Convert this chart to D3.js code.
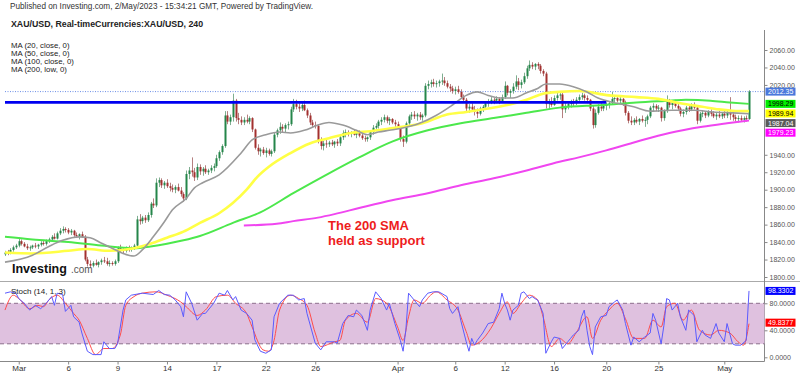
<!DOCTYPE html>
<html lang="en">
<head>
<meta charset="UTF-8">
<title>XAU/USD 240</title>
<script src="https://cdnjs.cloudflare.com/ajax/libs/d3/7.8.5/d3.min.js"></script>
<style>
    html, body { margin: 0; padding: 0; background: #fff; }
    svg text { font-family: Arial, "Liberation Sans", sans-serif; }
</style>
</head>
<body>
<svg id="chart" width="800" height="376"></svg>
<script>
// 4h candles, [high, low, close]; open = previous close
const firstOpen = 1826;
const candles = [
    [1830,1824,1828],[1831,1825,1827],[1833,1826,1831],[1836,1829,1834],[1838,1832,1836],
    [1845,1834,1841],[1843,1836,1838],[1840,1834,1835],[1838,1831,1833],[1836,1830,1834],[1837,1832,1836],
    [1839,1833,1835],[1838,1832,1837],[1841,1835,1839],[1842,1836,1838],[1843,1836,1841],[1845,1839,1843],
    [1848,1841,1846],[1850,1843,1844],[1852,1843,1850],[1856,1848,1853],[1858,1850,1855],[1857,1851,1854],
    [1856,1849,1851],[1855,1848,1853],[1854,1846,1848],[1851,1845,1847],[1850,1843,1849],[1852,1845,1846],
    [1848,1818,1820],[1823,1812,1815],[1819,1810,1813],[1818,1811,1816],[1820,1813,1814],[1818,1811,1817],
    [1821,1814,1819],[1823,1816,1818],[1822,1813,1815],[1819,1812,1816],[1818,1813,1815],[1820,1813,1818],
    [1835,1816,1833],[1837,1828,1831],[1834,1827,1830],[1835,1828,1833],[1836,1829,1832],[1835,1829,1834],
    [1838,1831,1836],[1870,1835,1866],[1872,1860,1864],[1870,1861,1868],[1871,1862,1865],[1874,1863,1871],
    [1886,1868,1884],[1890,1879,1882],[1913,1880,1908],[1914,1903,1911],[1913,1902,1905],[1910,1901,1908],
    [1912,1902,1904],[1908,1898,1902],[1906,1897,1900],[1905,1896,1903],[1907,1898,1899],[1903,1892,1895],
    [1897,1886,1890],[1922,1888,1918],[1926,1912,1922],[1937,1915,1920],[1925,1910,1914],[1930,1911,1926],
    [1929,1917,1921],[1926,1916,1924],[1928,1918,1920],[1924,1917,1922],[1928,1919,1925],[1930,1921,1927],
    [1940,1925,1936],[1945,1933,1943],[1952,1940,1950],[1990,1948,1985],[1990,1975,1978],[1986,1974,1983],
    [2010,1978,2002],[2004,1978,1982],[1988,1975,1980],[1984,1974,1977],[1983,1974,1980],[1986,1976,1978],
    [1984,1975,1982],[1983,1966,1969],[1970,1946,1948],[1952,1940,1944],[1948,1938,1946],[1949,1940,1942],
    [1948,1937,1945],[1947,1939,1941],[1946,1938,1944],[1966,1942,1963],[1970,1960,1968],[1977,1964,1972],
    [1975,1965,1970],[1976,1966,1974],[1978,1969,1975],[1995,1973,1992],[2004,1989,1998],[2003,1992,1995],
    [1999,1989,1993],[2001,1990,1997],[2002,1990,1991],[1993,1982,1985],[1988,1974,1977],[1980,1971,1974],
    [1978,1970,1973],[1975,1953,1956],[1960,1946,1950],[1956,1945,1953],[1957,1948,1952],[1956,1949,1954],
    [1957,1950,1952],[1956,1948,1955],[1958,1950,1953],[1962,1950,1960],[1968,1957,1965],[1969,1960,1966],
    [1968,1961,1964],[1967,1960,1966],[1969,1962,1963],[1966,1959,1965],[1968,1960,1962],[1964,1957,1959],
    [1962,1955,1958],[1961,1955,1960],[1968,1957,1966],[1974,1963,1971],[1976,1967,1973],[1980,1970,1978],
    [1983,1974,1980],[1986,1977,1983],[1985,1976,1979],[1983,1974,1981],[1982,1975,1977],[1980,1972,1975],
    [1978,1970,1972],[1973,1955,1958],[1962,1949,1955],[1978,1953,1976],[1986,1974,1984],[1989,1980,1986],
    [1990,1981,1984],[1988,1979,1986],[1989,1980,1983],[1987,1979,1985],[2022,1983,2019],[2025,2015,2021],
    [2026,2017,2023],[2027,2018,2021],[2025,2017,2022],[2026,2018,2024],[2033,2020,2025],[2029,2019,2022],
    [2025,2016,2018],[2021,2012,2016],[2019,2010,2013],[2018,2009,2015],[2019,2010,2012],[2015,2004,2006],
    [2009,2000,2003],[2005,1990,1993],[1998,1988,1995],[1999,1990,1992],[1996,1985,1989],[1993,1982,1987],
    [1995,1985,1993],[1997,1989,1995],[2001,1992,1999],[2004,1995,2001],[2006,1998,2003],[2005,1998,2002],
    [2007,1999,2004],[2006,1998,2001],[2009,2000,2006],[2024,2004,2019],[2020,2008,2011],[2015,2005,2013],
    [2022,2010,2018],[2031,2015,2024],[2028,2014,2020],[2026,2016,2023],[2034,2021,2030],[2042,2027,2039],
    [2048,2036,2043],[2046,2038,2041],[2045,2037,2044],[2046,2038,2042],[2044,2033,2036],[2038,2030,2033],
    [2035,1993,1998],[2004,1992,2000],[2006,1995,1997],[2008,1996,2005],[2011,2002,2008],[2012,2003,2009],
    [2011,1982,1992],[2000,1988,1996],[2001,1992,1998],[2003,1994,2000],[2004,1996,1999],[2006,1997,2003],
    [2009,2000,2006],[2011,2003,2008],[2010,2002,2005],[2008,1999,2003],[2004,1990,1993],[1996,1970,1974],
    [1992,1971,1988],[1998,1986,1995],[1999,1990,1993],[1998,1990,1996],[2000,1991,1998],[2001,1993,1999],
    [2012,1997,2004],[2007,2000,2005],[2008,2000,2002],[2006,1999,2004],[2005,1996,2000],[2002,1985,1988],
    [1990,1976,1979],[1984,1974,1977],[1982,1974,1980],[1984,1976,1978],[1982,1974,1981],[1985,1977,1979],
    [1983,1972,1980],[1986,1975,1984],[1996,1982,1994],[1999,1989,1996],[1998,1990,1993],[1997,1989,1994],
    [1995,1978,1982],[1992,1979,1990],[2008,1988,2001],[2004,1994,1997],[2002,1992,2000],[2003,1994,1996],
    [1999,1990,1993],[1995,1984,1987],[1992,1983,1989],[1996,1986,1994],[1998,1989,1992],[1999,1990,1997],
    [2000,1992,1994],[1996,1975,1979],[1989,1977,1987],[1991,1983,1988],[1990,1982,1985],[1991,1983,1989],
    [1992,1984,1987],[1990,1982,1984],[1989,1980,1986],[1990,1982,1984],[1989,1981,1987],[1990,1982,1985],
    [1991,1982,1988],[2006,1980,1986],[1989,1979,1983],[1986,1978,1981],[1985,1977,1982],[1985,1978,1980],
    [1984,1977,1982],[1985,1978,1981],[2014,1980,2012.35]
];

// moving averages, [bar, value]
const ma20 = [[0,1817],[10,1825],[16,1835],[21,1842],[27,1846],[31,1845],[35,1839],[39,1833],[43,1827],[47,1824],
    [50,1831],[54,1846],[58,1863],[61,1877],[66,1890],[69,1902],[72,1908],[78,1917],[86,1942],[90,1957],[95,1963],
    [100,1966],[104,1965],[109,1968],[114,1974],[118,1977],[123,1974],[128,1968],[132,1963],[136,1966],[140,1968],
    [144,1970],[151,1976],[157,1985],[163,1997],[168,2008],[172,2012],[176,2008],[180,2005],[185,2005],[190,2011],
    [194,2016],[197,2021],[202,2021],[207,2018],[212,2012],[216,2005],[223,1999],[229,1995],[235,1990],[243,1991],
    [251,1991],[258,1989],[265,1988],[271,1987.04]];
const ma50 = [[0,1828],[10,1827],[23,1830],[30,1832],[38,1830],[47,1833],[53,1838],[59,1845],[65,1852],[71,1862],
    [78,1873],[88,1900],[92,1915],[96,1926],[104,1942],[111,1953],[118,1959],[126,1965],[133,1967],[140,1970],
    [152,1976],[161,1986],[168,1989],[176,1993],[183,1997],[190,2003],[196,2010],[202,2012],[209,2013],[220,2008],
    [230,2006],[238,2004],[246,1999],[254,1995],[260,1992],[265,1990.5],[271,1989.94]];
const ma100 = [[0,1846],[10,1843],[23,1840],[35,1836],[47,1833],[53,1835],[59,1838],[65,1842],[71,1847],[83,1862],
    [93,1874],[105,1896],[117,1917],[129,1937],[141,1955],[154,1968],[166,1976],[178,1982],[190,1988],[202,1994],
    [218,1997],[230,2000],[242,2002],[248,2003],[257,2002],[264,2000],[271,1998.29]];
const ma200 = [[87,1859],[99,1861],[105,1864],[114,1868],[120,1872],[129,1879],[141,1888],[154,1896],[166,1905],
    [178,1913],[190,1922],[202,1932],[209,1937],[219,1945],[230,1955],[242,1965],[254,1972],[263,1976],[271,1979.23]];

// stochastic (14, 1, 3), [bar, value]
const stochK = [[0,95],[2,97],[4,95],[5,87],[7,80],[9,70],[11,77],[13,72],[15,80],[17,90],[18,77],[19,95],[21,93],
    [22,68],[24,77],[25,60],[27,52],[28,36],[30,9],[32,4],[35,4],[36,23],[38,13],[40,13],[41,20],[43,70],[44,85],
    [46,92],[50,95],[54,93],[56,99],[58,93],[60,92],[62,85],[64,75],[65,60],[66,97],[68,80],[70,55],[72,65],[73,65],
    [74,70],[76,80],[78,95],[80,92],[81,99],[83,85],[84,90],[86,70],[88,65],[90,55],[91,26],[93,9],[95,6],[97,11],
    [98,60],[100,80],[103,92],[105,92],[107,85],[109,87],[110,65],[113,21],[115,11],[117,23],[120,23],[121,21],
    [123,50],[125,62],[127,60],[128,70],[130,62],[132,40],[133,70],[135,97],[137,87],[139,70],[140,80],[142,50],
    [144,25],[145,9],[146,40],[147,95],[149,85],[151,75],[152,85],[154,95],[156,97],[158,97],[161,90],[162,72],
    [163,65],[165,75],[166,55],[168,23],[169,9],[170,28],[171,18],[172,25],[174,36],[176,50],[178,52],[180,72],
    [181,95],[182,80],[183,70],[184,55],[185,70],[187,77],[188,95],[189,97],[191,87],[192,90],[193,87],[194,85],
    [196,65],[197,6],[199,23],[200,30],[202,28],[203,13],[205,23],[206,28],[207,33],[209,40],[210,60],[211,70],
    [212,40],[213,16],[214,4],[215,45],[217,60],[219,62],[220,75],[222,82],[223,85],[225,70],[226,50],[228,18],
    [229,30],[231,23],[233,30],[235,36],[236,65],[237,55],[239,20],[240,47],[241,87],[242,85],[243,70],[245,80],
    [246,60],[248,40],[249,70],[251,62],[252,23],[254,40],[255,33],[257,28],[259,50],[260,36],[262,23],[263,50],
    [265,20],[266,18],[268,18],[270,25],[271,98.3302]];
const stochD = [[0,70],[3,92],[5,87],[9,72],[12,77],[14,75],[16,85],[19,92],[22,80],[25,65],[27,55],[30,28],[33,4],
    [36,13],[39,13],[42,33],[44,77],[47,90],[50,95],[55,97],[59,92],[64,82],[66,75],[70,62],[73,70],[77,90],[81,92],
    [84,80],[88,65],[90,45],[94,11],[96,9],[98,25],[100,70],[104,92],[107,87],[110,77],[113,36],[115,16],[120,23],
    [122,25],[124,55],[128,65],[132,52],[135,87],[139,80],[143,45],[145,25],[147,60],[149,85],[152,80],[155,92],
    [157,97],[161,85],[165,70],[168,38],[170,18],[173,23],[177,43],[180,65],[183,82],[185,65],[188,80],[191,92],
    [194,85],[196,60],[199,16],[202,28],[205,20],[208,36],[212,60],[214,28],[217,55],[220,70],[223,80],[226,57],
    [229,28],[233,28],[236,55],[239,45],[241,75],[244,80],[247,55],[250,70],[253,40],[257,33],[260,40],[264,36],
    [267,23],[269,18],[271,49.8377]];

const xTickBars = [5, 23, 41, 59, 77, 95, 113, 143, 164, 182, 200, 219, 238, 262];
const xTickLabels = ["Mar", "6", "9", "14", "17", "22", "26", "Apr", "6", "12", "16", "20", "25", "May"];
const priceTicks = [1800, 1820, 1840, 1860, 1880, 1900, 1920, 1940, 1960, 1980, 2000, 2020, 2040, 2060];
const stochTicks = [0, 40, 80];
const levelLine = [2000, 0, 219];   // price, from bar, to bar
const maNames = ["MA (20, close, 0)", "MA (50, close, 0)", "MA (100, close, 0)", "MA (200, low, 0)"];

const svg = d3.select("#chart");
const axisX = 764.5;

const x = d3.scaleLinear().domain([0, candles.length - 1]).range([5, 749]);
const y = d3.scaleLinear().domain([1800, 2060]).range([277, 50]);
const ys = d3.scaleLinear().domain([0, 100]).range([357.3, 289.8]);

// header
svg.append("text").attr("x", 10).attr("y", 9).attr("font-size", 8.2).attr("fill", "#333")
    .text("Published on Investing.com, 2/May/2023 - 15:34:21 GMT, Powered by TradingView.");
svg.append("text").attr("x", 11).attr("y", 27).attr("font-size", 8.8).attr("font-weight", "bold").attr("fill", "#222")
    .text("XAU/USD, Real-timeCurrencies:XAU/USD, 240");
maNames.forEach((t, i) => {
    svg.append("text").attr("x", 11).attr("y", 48 + i * 8.1).attr("font-size", 7.8).attr("fill", "#222").text(t);
});

// frame
svg.append("line").attr("x1", 0).attr("x2", 800).attr("y1", 281.5).attr("y2", 281.5).attr("stroke", "#aaa");
svg.append("line").attr("x1", 0).attr("x2", axisX).attr("y1", 361.5).attr("y2", 361.5).attr("stroke", "#888");
svg.append("line").attr("x1", axisX).attr("x2", axisX).attr("y1", 30).attr("y2", 361.5).attr("stroke", "#888");

// last price dotted line
const lastClose = candles[candles.length - 1][2];
svg.append("line").attr("x1", 5).attr("x2", axisX).attr("y1", y(lastClose)).attr("y2", y(lastClose))
    .attr("stroke", "#6d8fe6").attr("stroke-dasharray", "1,1.5");

// candles
const bars = candles.map((d, i) => ({
    i: i, o: i ? candles[i - 1][2] : firstOpen, h: d[0], l: d[1], c: d[2]
}));
const cg = svg.append("g");
cg.selectAll("line.wick").data(bars).enter().append("line")
    .attr("x1", d => Math.round(x(d.i)) + 0.5).attr("x2", d => Math.round(x(d.i)) + 0.5)
    .attr("y1", d => y(d.h)).attr("y2", d => y(d.l))
    .attr("stroke", d => d.c >= d.o ? "#7fae90" : "#b58080");
cg.selectAll("rect").data(bars).enter().append("rect")
    .attr("x", d => Math.round(x(d.i)) - 0.5).attr("width", 2)
    .attr("y", d => y(Math.max(d.o, d.c)))
    .attr("height", d => Math.max(1, Math.abs(y(d.o) - y(d.c))))
    .attr("fill", d => d.c >= d.o ? "#25864a" : "#a3302f");

// moving averages
const maLine = d3.line().x(d => x(d[0])).y(d => y(d[1])).curve(d3.curveMonotoneX);
[[ma200, "#f046f0", 2], [ma100, "#4ce84c", 2], [ma50, "#ffff45", 2.6], [ma20, "#9a9a9a", 1.6]].forEach(m => {
    svg.append("path").attr("d", maLine(m[0])).attr("fill", "none")
        .attr("stroke", m[1]).attr("stroke-width", m[2]);
});

// horizontal level
svg.append("line").attr("x1", x(levelLine[1])).attr("x2", x(levelLine[2]))
    .attr("y1", y(levelLine[0])).attr("y2", y(levelLine[0]))
    .attr("stroke", "#0000f0").attr("stroke-width", 2.6);

// logo and note
svg.append("text").attr("x", 12).attr("y", 273).attr("font-size", 12.5).attr("font-weight", "bold")
    .attr("fill", "#111").text("Investing");
svg.append("text").attr("x", 71).attr("y", 273).attr("font-size", 10).attr("fill", "#555").text(".com");
svg.append("text").attr("x", 328).attr("y", 230).attr("font-size", 13).attr("font-weight", "bold")
    .attr("fill", "#ee1c1c").text("The 200 SMA");
svg.append("text").attr("x", 328).attr("y", 245).attr("font-size", 13).attr("font-weight", "bold")
    .attr("fill", "#ee1c1c").text("held as support");

// price axis labels
const tags = [
    [lastClose, "#4a78dc", "#fff"],
    [ma100[ma100.length - 1][1], "#00ee00", "#000"],
    [ma50[ma50.length - 1][1], "#ffff00", "#000"],
    [ma20[ma20.length - 1][1], "#5a5a5a", "#fff"],
    [ma200[ma200.length - 1][1], "#ff00ff", "#fff"]
].map(t => ({v: t[0], fill: t[1], color: t[2], pos: y(t[0])})).sort((a, b) => a.pos - b.pos);
const boxH = 8, gap = 9.6;
tags.forEach((t, i) => { if (i && t.pos < tags[i - 1].pos + gap) t.pos = tags[i - 1].pos + gap; });

const yAxis = d3.axisRight(y).tickValues(priceTicks.filter(p =>
    !tags.some(t => y(p) > t.pos - boxH / 2 - 2 && y(p) < t.pos + boxH / 2 + 3)))
    .tickFormat(d3.format(".2f")).tickSize(3).tickPadding(2);
svg.append("g").attr("transform", `translate(${axisX},0)`).call(yAxis)
    .call(g => g.select(".domain").remove())
    .call(g => g.selectAll("line").attr("stroke", "#888"))
    .call(g => g.selectAll("text").attr("font-size", 7).attr("fill", "#555"));

function tagBox(t) {
    svg.append("rect").attr("x", axisX + 1).attr("y", t.pos - boxH / 2).attr("width", 30).attr("height", boxH)
        .attr("fill", t.fill);
    svg.append("text").attr("x", axisX + 3.5).attr("y", t.pos + 2.5).attr("font-size", 7).attr("fill", t.color)
        .text(d3.format(t.d || ".2f")(t.v));
}
tags.forEach(tagBox);

// stochastic pane
svg.append("rect").attr("x", 0).attr("width", axisX).attr("y", ys(80)).attr("height", ys(20) - ys(80))
    .attr("fill", "#dfc1df");
[20, 80].forEach(v => {
    svg.append("line").attr("x1", 0).attr("x2", axisX).attr("y1", ys(v)).attr("y2", ys(v))
        .attr("stroke", "#8c6f8c").attr("stroke-dasharray", "4,3");
});
svg.append("path").attr("d", d3.line().x(d => x(d[0])).y(d => ys(d[1])).curve(d3.curveMonotoneX)(stochD))
    .attr("fill", "none").attr("stroke", "#ff4c4c").attr("stroke-width", 1);
svg.append("path").attr("d", d3.line().x(d => x(d[0])).y(d => ys(d[1]))(stochK))
    .attr("fill", "none").attr("stroke", "#5b5bff").attr("stroke-width", 1);
svg.append("text").attr("x", 11).attr("y", 294).attr("font-size", 8).attr("fill", "#222").text("Stoch (14, 1, 3)");

const sAxis = d3.axisRight(ys).tickValues(stochTicks).tickFormat(d3.format(".4f")).tickSize(3).tickPadding(2);
svg.append("g").attr("transform", `translate(${axisX},0)`).call(sAxis)
    .call(g => g.select(".domain").remove())
    .call(g => g.selectAll("line").attr("stroke", "#888"))
    .call(g => g.selectAll("text").attr("font-size", 7).attr("fill", "#555"));
tagBox({v: stochK[stochK.length - 1][1], fill: "#0000ff", color: "#fff", pos: ys(stochK[stochK.length - 1][1]), d: ".4f"});
tagBox({v: stochD[stochD.length - 1][1], fill: "#ff0000", color: "#fff", pos: ys(stochD[stochD.length - 1][1]) - 1, d: ".4f"});

// time axis
const xAxis = d3.axisBottom(x).tickValues(xTickBars).tickFormat((d, i) => xTickLabels[i]).tickSize(3).tickPadding(1);
svg.append("g").attr("transform", "translate(0,361.5)").call(xAxis)
    .call(g => g.select(".domain").remove())
    .call(g => g.selectAll("line").attr("stroke", "#888"))
    .call(g => g.selectAll("text").attr("font-size", 8).attr("fill", "#333"));
</script>
</body>
</html>
